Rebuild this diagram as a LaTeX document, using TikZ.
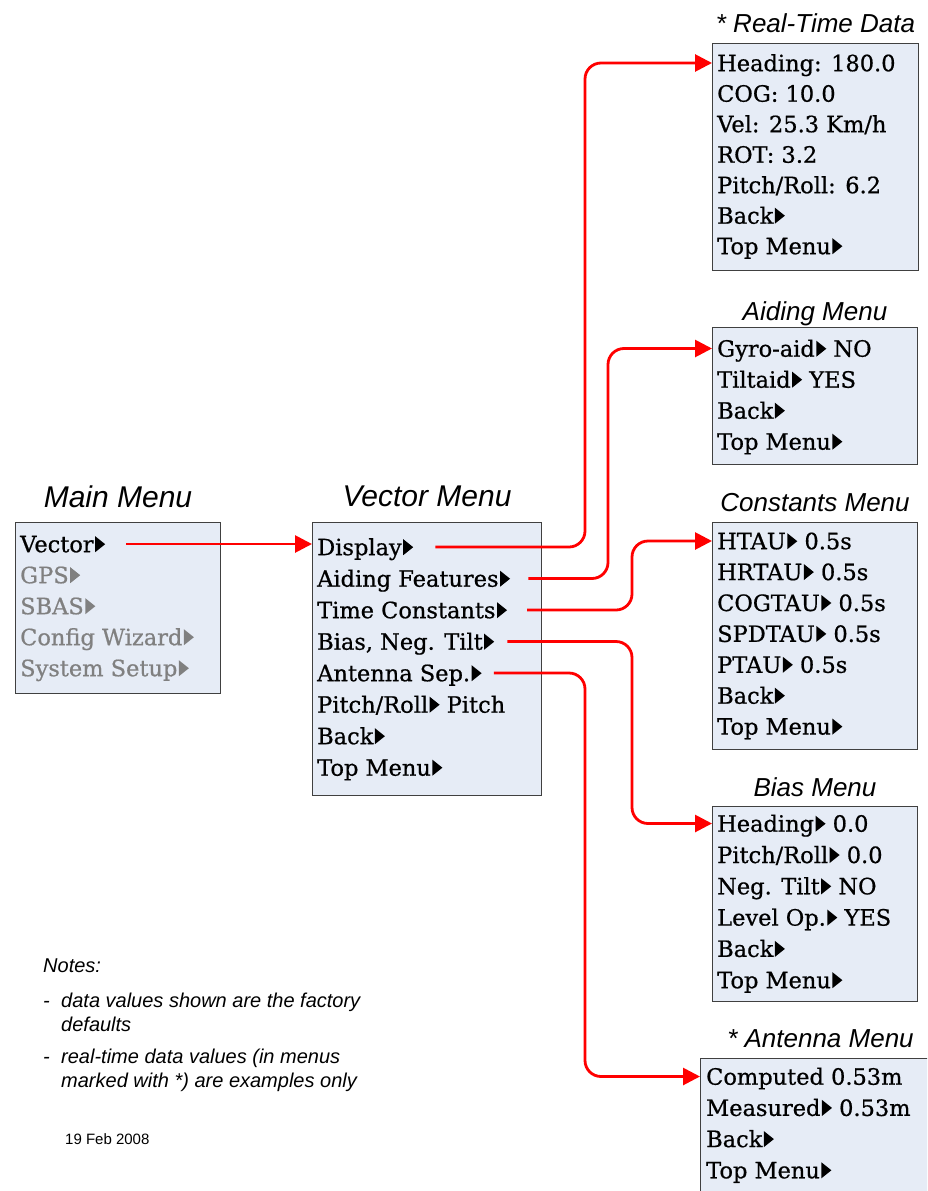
\documentclass[tikz,border=0pt]{standalone}
\usepackage{fontspec}
\setmainfont{Liberation Sans}
\newfontfamily\menufont[FakeBold=0.7]{DejaVu Serif}
\usetikzlibrary{arrows.meta, positioning}
\definecolor{menufill}{RGB}{230,236,246}
\definecolor{menugray}{RGB}{128,128,128}
\newcommand{\tri}[1][black]{\hspace{1.5pt}\tikz[baseline=0pt]\fill[#1] (0pt,0pt) -- (0pt,16pt) -- (10pt,8pt) -- cycle;}
\tikzset{
	menubox/.style={rectangle, draw=black!75, line width=1pt, fill=menufill, anchor=north west, inner sep=0pt},
	row/.style={anchor=west, inner sep=0pt, text height=16.4pt, text depth=0pt, font=\menufont\fontsize{22.5}{27}\selectfont},
	title/.style={inner sep=0pt, text height=18pt, text depth=0pt, font=\itshape\fontsize{26}{30}\selectfont},
	bigtitle/.style={title, font=\itshape\fontsize{30}{34}\selectfont},
	note/.style={anchor=base west, inner sep=0pt, font=\itshape\fontsize{20}{24}\selectfont},
	line/.style={draw=red, line width=2.8pt, rounded corners=16pt, -{Triangle[length=17pt, width=17pt]}}
}

\begin{document}
\begin{tikzpicture}[x=1pt, y=-1pt]
    \clip (0,0) rectangle (927,1191);
    % Boxes
    \node[menubox, minimum width=205pt, minimum height=171pt] (main) at (15,522) {};
    \node[menubox, minimum width=229pt, minimum height=273pt] (vector) at (312,522) {};
    \node[menubox, minimum width=206pt, minimum height=227pt] (realtime) at (712,43) {};
    \node[menubox, minimum width=205pt, minimum height=137pt] (aiding) at (712,327) {};
    \node[menubox, minimum width=205pt, minimum height=227pt] (constants) at (712,522) {};
    \node[menubox, minimum width=205pt, minimum height=195pt] (bias) at (712,806) {};
    \node[menubox, minimum width=240pt, minimum height=150pt] (antenna) at (700,1058) {};
    % Titles
    \node[bigtitle, above=14pt of main] (main-title) {Main Menu};
    \node[bigtitle, above=15pt of vector] (vector-title) {Vector Menu};
    \node[title, above=10pt of realtime] (realtime-title) {* Real-Time Data};
    \node[title, above=6pt of aiding] (aiding-title) {Aiding Menu};
    \node[title, above=10pt of constants] (constants-title) {Constants Menu};
    \node[title, above=9pt of bias] (bias-title) {Bias Menu};
    \node[title, above=10pt of antenna] (antenna-title) {* Antenna Menu};
    % Rows
    \node[row] (mm-1) at (20,544) {Vector\tri};
    \foreach \txt [count=\i from 2] in {GPS, SBAS, Config Wizard, System Setup}
        \node[row, text=menugray] (mm-\i) at (20,{544+31*(\i-1)}) {\txt\tri[menugray]};
    \foreach \txt [count=\i] in {Display\tri, Aiding Features\tri, Time Constants\tri, {Bias, Neg. Tilt\tri}, Antenna Sep.\tri, Pitch/Roll\tri{} Pitch, Back\tri, Top Menu\tri}
        \node[row] (vm-\i) at (317,{547+31.5*(\i-1)}) {\txt};
    \foreach \txt [count=\i] in {Heading: 180.0, COG: 10.0, Vel: 25.3 Km/h, ROT: 3.2, Pitch/Roll: 6.2, Back\tri, Top Menu\tri}
        \node[row] (rt-\i) at (717,{63+30.5*(\i-1)}) {\txt};
    \foreach \txt [count=\i] in {Gyro-aid\tri{} NO, Tiltaid\tri{} YES, Back\tri, Top Menu\tri}
        \node[row] (ad-\i) at (717,{348.5+31*(\i-1)}) {\txt};
    \foreach \txt [count=\i] in {HTAU\tri{} 0.5s, HRTAU\tri{} 0.5s, COGTAU\tri{} 0.5s, SPDTAU\tri{} 0.5s, PTAU\tri{} 0.5s, Back\tri, Top Menu\tri}
        \node[row] (co-\i) at (717,{541+30.9*(\i-1)}) {\txt};
    \foreach \txt [count=\i] in {Heading\tri{} 0.0, Pitch/Roll\tri{} 0.0, Neg. Tilt\tri{} NO, Level Op.\tri{} YES, Back\tri, Top Menu\tri}
        \node[row] (bi-\i) at (717,{823.5+31.3*(\i-1)}) {\txt};
    \foreach \txt [count=\i] in {Computed 0.53m, Measured\tri{} 0.53m, Back\tri, Top Menu\tri}
        \node[row] (an-\i) at (706,{1076.5+31.2*(\i-1)}) {\txt};
    % Arrows
    \coordinate (busA) at (585,0);
    \coordinate (busB) at (608,0);
    \coordinate (busC) at (632,0);
    \draw[line] ([xshift=21pt]mm-1.east) -- (vector.west |- mm-1.east);
    \draw[line] ([xshift=22pt]vm-1.east) -- (vm-1.east -| busA) -- (rt-1.west -| busA) -- (realtime.west |- rt-1.west);
    \draw[line] ([xshift=18pt]vm-2.east) -- (vm-2.east -| busB) -- (ad-1.west -| busB) -- (aiding.west |- ad-1.west);
    \draw[line] ([xshift=20pt]vm-3.east) -- (vm-3.east -| busC) -- (co-1.west -| busC) -- (constants.west |- co-1.west);
    \draw[line] ([xshift=13pt]vm-4.east) -- (vm-4.east -| busC) -- (bi-1.west -| busC) -- (bias.west |- bi-1.west);
    \draw[line] ([xshift=12pt]vm-5.east) -- (vm-5.east -| busA) -- (an-1.west -| busA) -- (antenna.west |- an-1.west);
    % Notes
    \node[note] (notes) at (43,972) {Notes:};
    \node[note] (dash-1) at (43,1007) {-};
    \node[note] (note-1a) at (61,1007) {data values shown are the factory};
    \node[note] (note-1b) at (61,1031) {defaults};
    \node[note] (dash-2) at (43,1063) {-};
    \node[note] (note-2a) at (61,1063) {real-time data values (in menus};
    \node[note] (note-2b) at (61,1087) {marked with *) are examples only};
    \node[note, font=\fontsize{15}{18}\selectfont] (date) at (65,1144) {19 Feb 2008};
\end{tikzpicture}
\end{document}
